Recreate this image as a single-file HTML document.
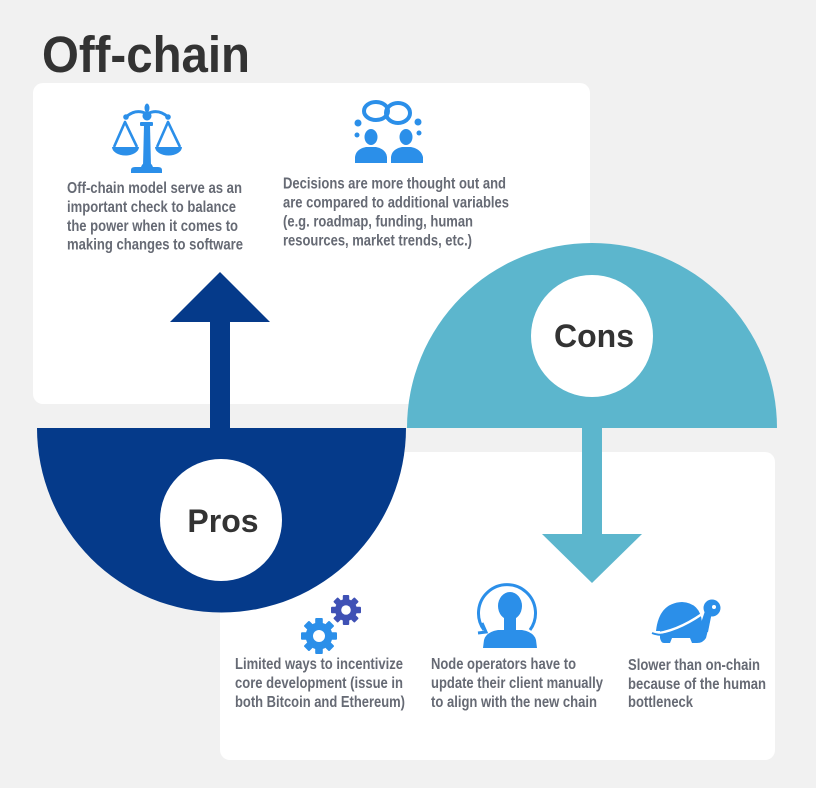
<!DOCTYPE html>
<html><head><meta charset="utf-8"><style>
html,body{margin:0;padding:0;background:#f1f1f1;}
svg{display:block;}
.t{font-family:"Liberation Sans",Arial,sans-serif;font-weight:bold;font-size:15.5px;fill:#666a74;}
</style></head><body>
<svg width="816" height="788" viewBox="0 0 816 788" xmlns="http://www.w3.org/2000/svg">
<rect width="816" height="788" fill="#f1f1f1"/>
<text x="42" y="72" font-family="Liberation Sans, Arial, sans-serif" font-weight="bold" font-size="51" fill="#333333" textLength="208" lengthAdjust="spacingAndGlyphs">Off-chain</text>

<!-- cards -->
<rect x="33" y="83" width="557" height="321" rx="10" fill="#ffffff"/>
<rect x="220" y="452" width="555" height="308" rx="10" fill="#ffffff"/>

<!-- Pros semicircle -->
<path d="M37,428 L406,428 A184.5,184.5 0 0 1 37,428 Z" fill="#053a8a"/>
<rect x="210" y="320" width="20" height="110" fill="#053a8a"/>
<polygon points="170,322 270,322 220,272" fill="#053a8a"/>
<circle cx="221" cy="520" r="61" fill="#ffffff"/>
<text x="223" y="532" text-anchor="middle" font-family="Liberation Sans, Arial, sans-serif" font-weight="bold" font-size="32" fill="#333333">Pros</text>

<!-- Cons semicircle -->
<path d="M407,428 A185,185 0 0 1 777,428 Z" fill="#5cb6cd"/>
<rect x="582" y="426" width="20" height="110" fill="#5cb6cd"/>
<polygon points="542,534 642,534 592,583" fill="#5cb6cd"/>
<circle cx="592" cy="336" r="61" fill="#ffffff"/>
<text x="594" y="347" text-anchor="middle" font-family="Liberation Sans, Arial, sans-serif" font-weight="bold" font-size="32" fill="#333333">Cons</text>

<!-- scales icon -->
<g fill="#2b8fe9" stroke="none">
  <ellipse cx="147" cy="108" rx="2.5" ry="4.5"/>
  <path d="M126,117 Q136,108 147,114 Q158,108 168,117" fill="none" stroke="#2b8fe9" stroke-width="3"/>
  <circle cx="126" cy="117" r="2.8"/>
  <circle cx="168" cy="117" r="2.8"/>
  <circle cx="147" cy="116" r="4.5"/>
  <rect x="140" y="122" width="13" height="4" rx="1"/>
  <polygon points="144,125 150,125 151,166 143,166"/>
  <path d="M131,173 L131,170 Q131,167 135,167 L141,167 Q143,162 147,162 Q151,162 153,167 L158,167 Q162,167 162,170 L162,173 Z"/>
  <path d="M114,147 L125,122 L137,147 M157,147 L168,122 L180,147" fill="none" stroke="#2b8fe9" stroke-width="2.6" stroke-linejoin="round"/>
  <path d="M112,147 L139,147 A13.5,8.5 0 0 1 112,147 Z"/>
  <path d="M155,147 L182,147 A13.5,8.5 0 0 1 155,147 Z"/>
</g>

<!-- people icon -->
<g fill="#2b8fe9">
  <ellipse cx="376" cy="111" rx="12" ry="9" fill="none" stroke="#2b8fe9" stroke-width="4"/>
  <ellipse cx="398" cy="113" rx="12" ry="10" fill="none" stroke="#2b8fe9" stroke-width="4"/>
  <circle cx="358" cy="123" r="3.5"/>
  <circle cx="357" cy="135" r="2.5"/>
  <circle cx="418" cy="122" r="3.5"/>
  <circle cx="419" cy="133" r="2.5"/>
  <ellipse cx="371" cy="137" rx="6.5" ry="8"/>
  <path d="M355,163 L355,157 Q356,149 366,147 L376,147 Q386,149 387,157 L387,163 Z"/>
  <ellipse cx="406" cy="137" rx="6.5" ry="8"/>
  <path d="M391,163 L391,157 Q392,149 402,147 L411,147 Q421,149 423,157 L423,163 Z"/>
</g>

<!-- gears -->
<g transform="translate(319,636)" fill="#2b8fe9">
  <circle r="13.5"/>
  <rect x="-3.8" y="-18" width="7.6" height="8" rx="1" transform="rotate(0)"/>
  <rect x="-3.8" y="-18" width="7.6" height="8" rx="1" transform="rotate(45)"/>
  <rect x="-3.8" y="-18" width="7.6" height="8" rx="1" transform="rotate(90)"/>
  <rect x="-3.8" y="-18" width="7.6" height="8" rx="1" transform="rotate(135)"/>
  <rect x="-3.8" y="-18" width="7.6" height="8" rx="1" transform="rotate(180)"/>
  <rect x="-3.8" y="-18" width="7.6" height="8" rx="1" transform="rotate(225)"/>
  <rect x="-3.8" y="-18" width="7.6" height="8" rx="1" transform="rotate(270)"/>
  <rect x="-3.8" y="-18" width="7.6" height="8" rx="1" transform="rotate(315)"/>
  <circle r="6" fill="#ffffff"/>
</g>
<g transform="translate(346,610)" fill="#3f51b5">
  <circle r="11"/>
  <rect x="-3.2" y="-15" width="6.4" height="7" rx="1" transform="rotate(0)"/>
  <rect x="-3.2" y="-15" width="6.4" height="7" rx="1" transform="rotate(45)"/>
  <rect x="-3.2" y="-15" width="6.4" height="7" rx="1" transform="rotate(90)"/>
  <rect x="-3.2" y="-15" width="6.4" height="7" rx="1" transform="rotate(135)"/>
  <rect x="-3.2" y="-15" width="6.4" height="7" rx="1" transform="rotate(180)"/>
  <rect x="-3.2" y="-15" width="6.4" height="7" rx="1" transform="rotate(225)"/>
  <rect x="-3.2" y="-15" width="6.4" height="7" rx="1" transform="rotate(270)"/>
  <rect x="-3.2" y="-15" width="6.4" height="7" rx="1" transform="rotate(315)"/>
  <circle r="4.8" fill="#ffffff"/>
</g>

<!-- node operator icon -->
<g fill="#2b8fe9">
  <path d="M484,630 A28.5,28.5 0 1 1 530,630" fill="none" stroke="#2b8fe9" stroke-width="3"/>
  <path d="M482,623 L486,632 L478,633" fill="none" stroke="#2b8fe9" stroke-width="3" stroke-linejoin="miter"/>
  <ellipse cx="510" cy="606" rx="12" ry="14"/>
  <rect x="504" y="616" width="12" height="14"/>
  <path d="M483,648 L484,640 Q486,632 498,630 L522,630 Q534,632 536,640 L537,648 Z"/>
</g>

<!-- turtle icon -->
<g fill="#2b8fe9">
  <path d="M656,631 Q659,603 682,602 Q700,603 702,622 L702,631 Z"/>
  <circle cx="712" cy="608" r="8.5"/>
  <path d="M705,611 L712,612 L708,632 L698,632 Z"/>
  <path d="M660,630 L708,630 L706,638 Q703,643 697,643 L692,643 L690,638 L672,638 L670,643 L664,643 Q661,643 660,638 Z"/>
  <path d="M652,634 Q676,632 702,614" fill="none" stroke="#ffffff" stroke-width="2.5"/>
  <path d="M652,633 Q660,636 665,634" fill="none" stroke="#2b8fe9" stroke-width="2"/>
  <circle cx="714" cy="607" r="2" fill="#ffffff"/>
</g>

<!-- texts top left -->
<text class="t" x="67" y="193" textLength="175" lengthAdjust="spacingAndGlyphs">Off-chain model serve as an</text>
<text class="t" x="67" y="212" textLength="169" lengthAdjust="spacingAndGlyphs">important check to balance</text>
<text class="t" x="67" y="231" textLength="171" lengthAdjust="spacingAndGlyphs">the power when it comes to</text>
<text class="t" x="67" y="249.5" textLength="176" lengthAdjust="spacingAndGlyphs">making changes to software</text>

<!-- texts top right -->
<text class="t" x="283" y="188.5" textLength="223" lengthAdjust="spacingAndGlyphs">Decisions are more thought out and</text>
<text class="t" x="283" y="207.5" textLength="226" lengthAdjust="spacingAndGlyphs">are compared to additional variables</text>
<text class="t" x="283" y="226.5" textLength="190" lengthAdjust="spacingAndGlyphs">(e.g. roadmap, funding, human</text>
<text class="t" x="283" y="245.5" textLength="189" lengthAdjust="spacingAndGlyphs">resources, market trends, etc.)</text>

<!-- bottom texts -->
<text class="t" x="235" y="669" textLength="168" lengthAdjust="spacingAndGlyphs">Limited ways to incentivize</text>
<text class="t" x="235" y="688" textLength="168" lengthAdjust="spacingAndGlyphs">core development (issue in</text>
<text class="t" x="235" y="707" textLength="170" lengthAdjust="spacingAndGlyphs">both Bitcoin and Ethereum)</text>

<text class="t" x="431" y="669" textLength="145" lengthAdjust="spacingAndGlyphs">Node operators have to</text>
<text class="t" x="431" y="688" textLength="172" lengthAdjust="spacingAndGlyphs">update their client manually</text>
<text class="t" x="431" y="707" textLength="166" lengthAdjust="spacingAndGlyphs">to align with the new chain</text>

<text class="t" x="628" y="670" textLength="132" lengthAdjust="spacingAndGlyphs">Slower than on-chain</text>
<text class="t" x="628" y="689" textLength="138" lengthAdjust="spacingAndGlyphs">because of the human</text>
<text class="t" x="628" y="707" textLength="65" lengthAdjust="spacingAndGlyphs">bottleneck</text>
</svg>
</body></html>
